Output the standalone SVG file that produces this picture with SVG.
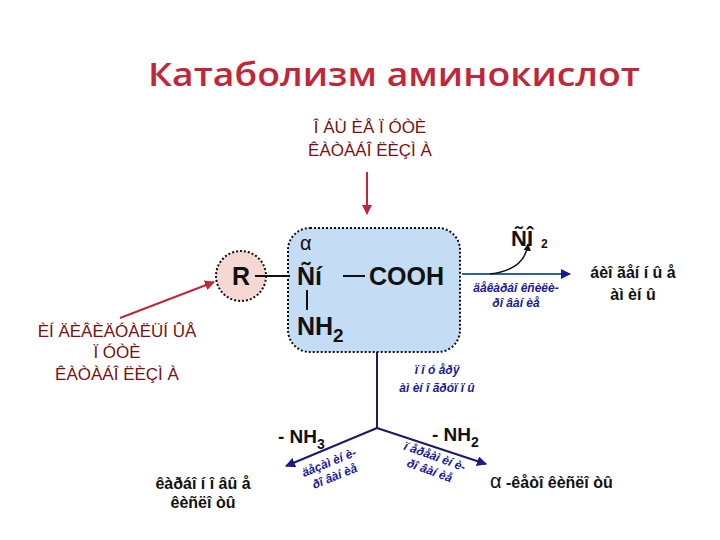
<svg xmlns="http://www.w3.org/2000/svg" width="720" height="540" viewBox="0 0 720 540">
<style>
.t{font-family:"Liberation Sans",Arial,sans-serif}
.red{fill:#7a1010;font-size:17px}
.blk{fill:#111;font-weight:bold}
.blu{fill:#1a1a9a;font-size:12px;font-style:italic;font-weight:bold}
.ln{stroke:#111;stroke-width:2;fill:none}
.bl{stroke:#1a1a6a;stroke-width:2;fill:none}
</style>
<defs>
<marker id="ar" viewBox="0 0 10 10" refX="9" refY="5" markerWidth="5" markerHeight="5" orient="auto"><path d="M0,0L10,5L0,10z" fill="#c0283a"/></marker>
<marker id="ab" viewBox="0 0 10 10" refX="9" refY="5" markerWidth="5" markerHeight="5" orient="auto"><path d="M0,0L10,5L0,10z" fill="#1a1a8a"/></marker>
<marker id="ak" viewBox="0 0 10 10" refX="9" refY="5" markerWidth="5" markerHeight="5" orient="auto"><path d="M0,0L10,5L0,10z" fill="#111"/></marker>
</defs>
<rect width="720" height="540" fill="#fff"/>
<text x="148" y="86" font-family="'Open Sans',sans-serif" font-weight="600" font-size="33" fill="#c0283a" textLength="492" lengthAdjust="spacingAndGlyphs">Катаболизм аминокислот</text>
<g id="connectors">
<line x1="367" y1="172" x2="367" y2="214" stroke="#c0283a" stroke-width="2" marker-end="url(#ar)"/>
<line x1="120" y1="318" x2="214" y2="282" stroke="#c0283a" stroke-width="2" marker-end="url(#ar)"/>
<line x1="462" y1="274" x2="570" y2="274" stroke="#2a60b0" stroke-width="2" marker-end="url(#ab)"/>
<path d="M490,274 Q525,270 528,244" stroke="#111" stroke-width="1.5" fill="none" marker-end="url(#ak)"/>
<line class="bl" x1="377" y1="352" x2="377" y2="428"/>
<line class="bl" x1="377" y1="428" x2="286" y2="466" marker-end="url(#ab)"/>
<line class="bl" x1="377" y1="428" x2="486" y2="464" marker-end="url(#ab)"/>
</g>
<g id="box">
<rect x="288" y="228" width="172" height="124" rx="22" fill="#c4dcf4" stroke="#111" stroke-width="2" stroke-dasharray="2,2"/>
<text class="t" x="300" y="250" font-size="20" fill="#111">α</text>
<text class="t blk" x="297" y="285" font-size="25">Ñí</text>
<line class="ln" x1="343" y1="276" x2="365" y2="276"/>
<text class="t blk" x="369" y="285" font-size="25">COOH</text>
<line class="ln" x1="307" y1="290" x2="307" y2="310"/>
<text class="t blk" x="297" y="335" font-size="25">NH<tspan font-size="19" dy="7">2</tspan></text>
</g>
<g id="R">
<circle cx="241" cy="276" r="25" fill="#f6d8d2" stroke="#111" stroke-width="2" stroke-dasharray="2,2"/>
<text class="t blk" x="241" y="285" font-size="25" text-anchor="middle">R</text>
<line class="ln" x1="255" y1="276" x2="290" y2="276"/>
</g>
<g id="top"><text class="t red" text-anchor="middle"><tspan x="370" y="133">Î ÁÙ ÈÅ Ï ÓÒÈ</tspan><tspan x="370" y="156">ÊÀÒÀÁÎ ËÈÇÌ À</tspan></text></g>
<g id="left"><text class="t red" text-anchor="middle"><tspan x="117" y="337">ÈÍ ÄÈÂÈÄÓÀËÜÍ ÛÅ</tspan><tspan x="117" y="358">Ï ÓÒÈ</tspan><tspan x="117" y="380">ÊÀÒÀÁÎ ËÈÇÌ À</tspan></text></g>
<g id="co2"><text class="t blk" x="511" y="246" font-size="22">ÑÎ</text><text class="t blk" x="541" y="248" font-size="12">2</text></g>
<g id="decarb"><text class="t blu" text-anchor="middle"><tspan x="516" y="292">äåêàðáî êñèëè-</tspan><tspan x="516" y="307">ðî âàí èå</tspan></text></g>
<g id="amines"><text class="t blk" font-size="16" text-anchor="middle"><tspan x="633" y="278">áèî ãåí í û å</tspan><tspan x="633" y="300">àì èí û</tspan></text></g>
<g id="trans"><text class="t blu" text-anchor="middle" font-size="14"><tspan x="437" y="374">ï î ó åðÿ</tspan><tspan x="437" y="392">àì èí î ãðóï ï û</tspan></text></g>
<g id="nh3"><text class="t blk" x="278" y="443" font-size="19">- NH<tspan font-size="14" dy="6">3</tspan></text></g>
<g id="nh2"><text class="t blk" x="432" y="441" font-size="19">- NH<tspan font-size="14" dy="6">2</tspan></text></g>
<g id="deam"><text class="t blu" text-anchor="middle" font-size="13" transform="rotate(-22 332 470)"><tspan x="332" y="466">äåçàì èí è-</tspan><tspan x="332" y="481">ðî âàí èå</tspan></text></g>
<g id="transam"><text class="t blu" text-anchor="middle" font-size="13" transform="rotate(20 432 464)"><tspan x="432" y="460">ï åðåàì èí è-</tspan><tspan x="432" y="475">ðî âàí èå</tspan></text></g>
<g id="keto"><text class="t blk" font-size="16" text-anchor="middle"><tspan x="203" y="489">êàðáî í î âû å</tspan><tspan x="203" y="508">êèñëî òû</tspan></text></g>
<g id="aketo"><text class="t blk" x="490" y="488" font-size="16"><tspan font-weight="normal" font-size="20">α</tspan> -êåòî êèñëî òû</text></g>
</svg>
